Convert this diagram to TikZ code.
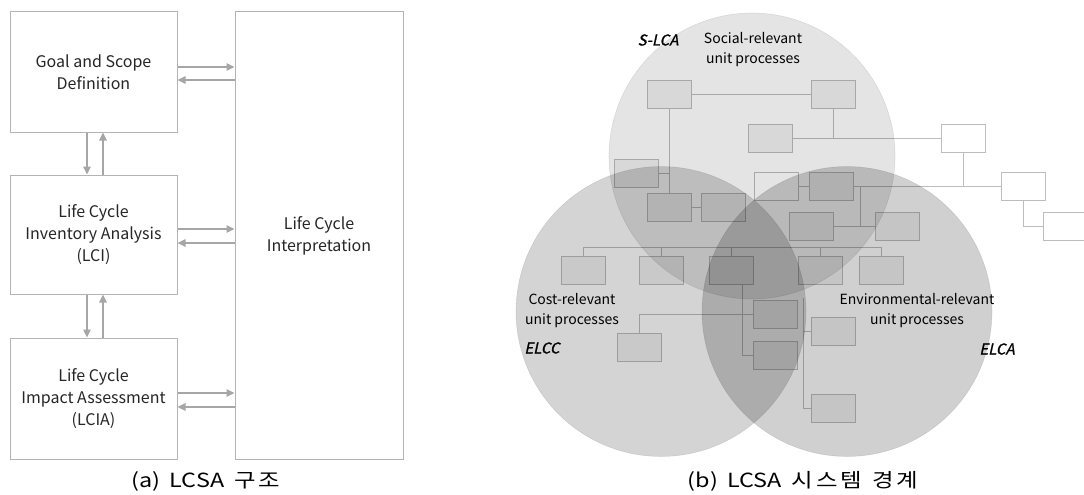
\documentclass[tikz,border=0pt]{standalone}
\usepackage{fontspec}
\setmainfont{Noto Sans CJK KR}
\newfontfamily\slfont{Noto Sans CJK KR}[FakeSlant=0.22,FakeBold=1]
\newfontfamily\capfont{Noto Sans CJK KR}[FakeStretch=1.2]
\usetikzlibrary{arrows.meta,shadows}
\definecolor{boxgray}{HTML}{B4B4B4}
\definecolor{arrgray}{HTML}{A6A6A6}
\definecolor{linegray}{HTML}{BDBDBD}
\begin{document}
\begin{tikzpicture}[x=1pt,y=-1pt,
  lbox/.style={draw=boxgray, line width=1pt, fill=white, align=center, inner sep=0pt,
    text=black!85, font=\fontsize{16}{22}\selectfont,
    drop shadow={shadow xshift=1.2pt, shadow yshift=-1.2pt, opacity=1, fill=black!45}},
  garrow/.style={draw=arrgray, line width=1.3pt, -{Triangle[length=8pt,width=7.5pt]}},
  ubox/.style={draw=linegray, line width=0.9pt, fill=black!5, minimum width=44pt, minimum height=28pt, inner sep=0pt},
  wbox/.style={ubox, fill=white},
  conn/.style={draw=linegray, line width=0.9pt},
  circ/.style={fill=black, draw=black, draw opacity=0.09, line width=0.6pt},
  lab/.style={align=center, text=black, font=\fontsize{14}{20}\selectfont},
  slab/.style={text=black, font=\slfont\fontsize{15}{16}\selectfont},
  captxt/.style={text=black, inner sep=0pt, font=\capfont\fontsize{19.5}{22}\selectfont}
]
\useasboundingbox (0,0) rectangle (1084,495);
\fill[white] (0,0) rectangle (1084,495);

% ---------- (a) ----------
\node[lbox, minimum width=167pt, minimum height=120pt] (goal) at (93.5,72) {Goal and Scope\\Definition};
\node[lbox, minimum width=167pt, minimum height=119pt] (lci) at (93.5,234.5) {Life Cycle\\Inventory Analysis\\(LCI)};
\node[lbox, minimum width=167pt, minimum height=121pt] (lcia) at (93.5,398.5) {Life Cycle\\Impact Assessment\\(LCIA)};
\node[lbox, minimum width=168pt, minimum height=447pt] (interp) at (319,235.5) {Life Cycle\\Interpretation};

\draw[garrow] (goal.east |- 0,67) -- (interp.west |- 0,67);
\draw[garrow] (interp.west |- 0,80) -- (goal.east |- 0,80);
\draw[garrow] (lci.east |- 0,229) -- (interp.west |- 0,229);
\draw[garrow] (interp.west |- 0,243) -- (lci.east |- 0,243);
\draw[garrow] (lcia.east |- 0,393) -- (interp.west |- 0,393);
\draw[garrow] (interp.west |- 0,407) -- (lcia.east |- 0,407);

\draw[garrow] (goal.south -| 87,0) -- (lci.north -| 87,0);
\draw[garrow] (lci.north -| 103,0) -- (goal.south -| 103,0);
\draw[garrow] (lci.south -| 87,0) -- (lcia.north -| 87,0);
\draw[garrow] (lcia.north -| 103,0) -- (lci.south -| 103,0);

\node[captxt] (capa) at (206,481) {(a)\hspace{9pt}LCSA\hspace{10pt}구\hspace{3pt}조};

% ---------- (b) unit processes ----------
\node[ubox] (B1) at (669,94.5) {};
\node[ubox] (B2) at (833,94.5) {};
\node[ubox] (B3) at (770,138.5) {};
\node[ubox] (B11) at (636,173) {};
\node[ubox] (B10) at (669,207) {};
\node[ubox] (B12) at (723,207) {};
\node[ubox, fill=white] (B4) at (776.5,186) {};
\node[ubox] (B5) at (831,186) {};
\node[ubox] (B6) at (811,226.5) {};
\node[ubox] (B7) at (897.5,226.5) {};
\node[ubox] (B8) at (820,270) {};
\node[ubox] (B9) at (881,270) {};
\node[ubox] (C1) at (583.5,270) {};
\node[ubox] (C2) at (661,270) {};
\node[ubox] (C3) at (731.5,270) {};
\node[ubox] (C4) at (639,347.5) {};
\node[ubox] (D1) at (775,314) {};
\node[ubox] (D2) at (775,355.5) {};
\node[ubox] (E1) at (833,331) {};
\node[ubox] (E2) at (833,408.5) {};
\node[wbox] (W1) at (963,138.5) {};
\node[wbox] (W2) at (1023.5,186) {};
\node[wbox, minimum width=52pt] (W3) at (1069,226.5) {};

\coordinate (j1) at (860,186);
\coordinate (busL) at (583.5,247);
\coordinate (busR) at (881,247);
\coordinate (c3d) at (742,284);
\coordinate (c3b) at (742,355.5);
\coordinate (etop) at (803,298);

\draw[conn] (B1) -- (B2);
\draw[conn] (B1) -- (B10);
\draw[conn] (B11.east) -- (B11.east -| B1.south);
\draw[conn] (B10) -- (B12);
\draw[conn] (B3.east) -- (W1.west);
\draw[conn] (B2.south) -- (B2.south |- B3.east);
\draw[conn] (B4) -- (B5);
\draw[conn] (B5.east) -- (W2.west);
\draw[conn] (W1.south) -- (W1.south |- W2.west);
\draw[conn] (W2.south) |- (W3.west);
\draw[conn] (B6) -- (B7);
\draw[conn] (j1) -- (j1 |- B6.east);
\draw[conn] (C1.north) -- (busL) -- (busR) -- (B9.north);
\draw[conn] (C2.north) -- (C2.north |- busL);
\draw[conn] (C3.north) -- (C3.north |- busL);
\draw[conn] (B8.north) -- (B8.north |- busL);
\draw[conn] (c3d) -- (c3b) -- (D2.west);
\draw[conn] (D1.west) -- (C4.north |- D1.west) -- (C4.north);
\draw[conn] (etop) -- (etop |- E2.west) -- (E2.west);
\draw[conn] (etop |- E1.west) -- (E1.west);

% ---------- circles ----------
\path[circ, fill opacity=0.105] (752,156) circle[radius=143pt];
\path[circ, fill opacity=0.17] (661,311.5) circle[radius=145pt];
\path[circ, fill opacity=0.185] (847,311.5) circle[radius=145pt];

% ---------- labels ----------
\node[slab] (slca) at (658,40) {S-LCA};
\node[lab] (soc) at (753,50) {Social-relevant\\unit processes};
\node[lab] (cost) at (572,311) {Cost-relevant\\unit processes};
\node[slab] (elcc) at (542,348) {ELCC};
\node[lab] (env) at (917,311) {Environmental-relevant\\unit processes};
\node[slab] (elca) at (997,349) {ELCA};

\node[captxt] (capb) at (803,481) {(b)\hspace{9pt}LCSA\hspace{10pt}시\hspace{3pt}스\hspace{3pt}템\hspace{10pt}경\hspace{3pt}계};
\end{tikzpicture}
\end{document}
